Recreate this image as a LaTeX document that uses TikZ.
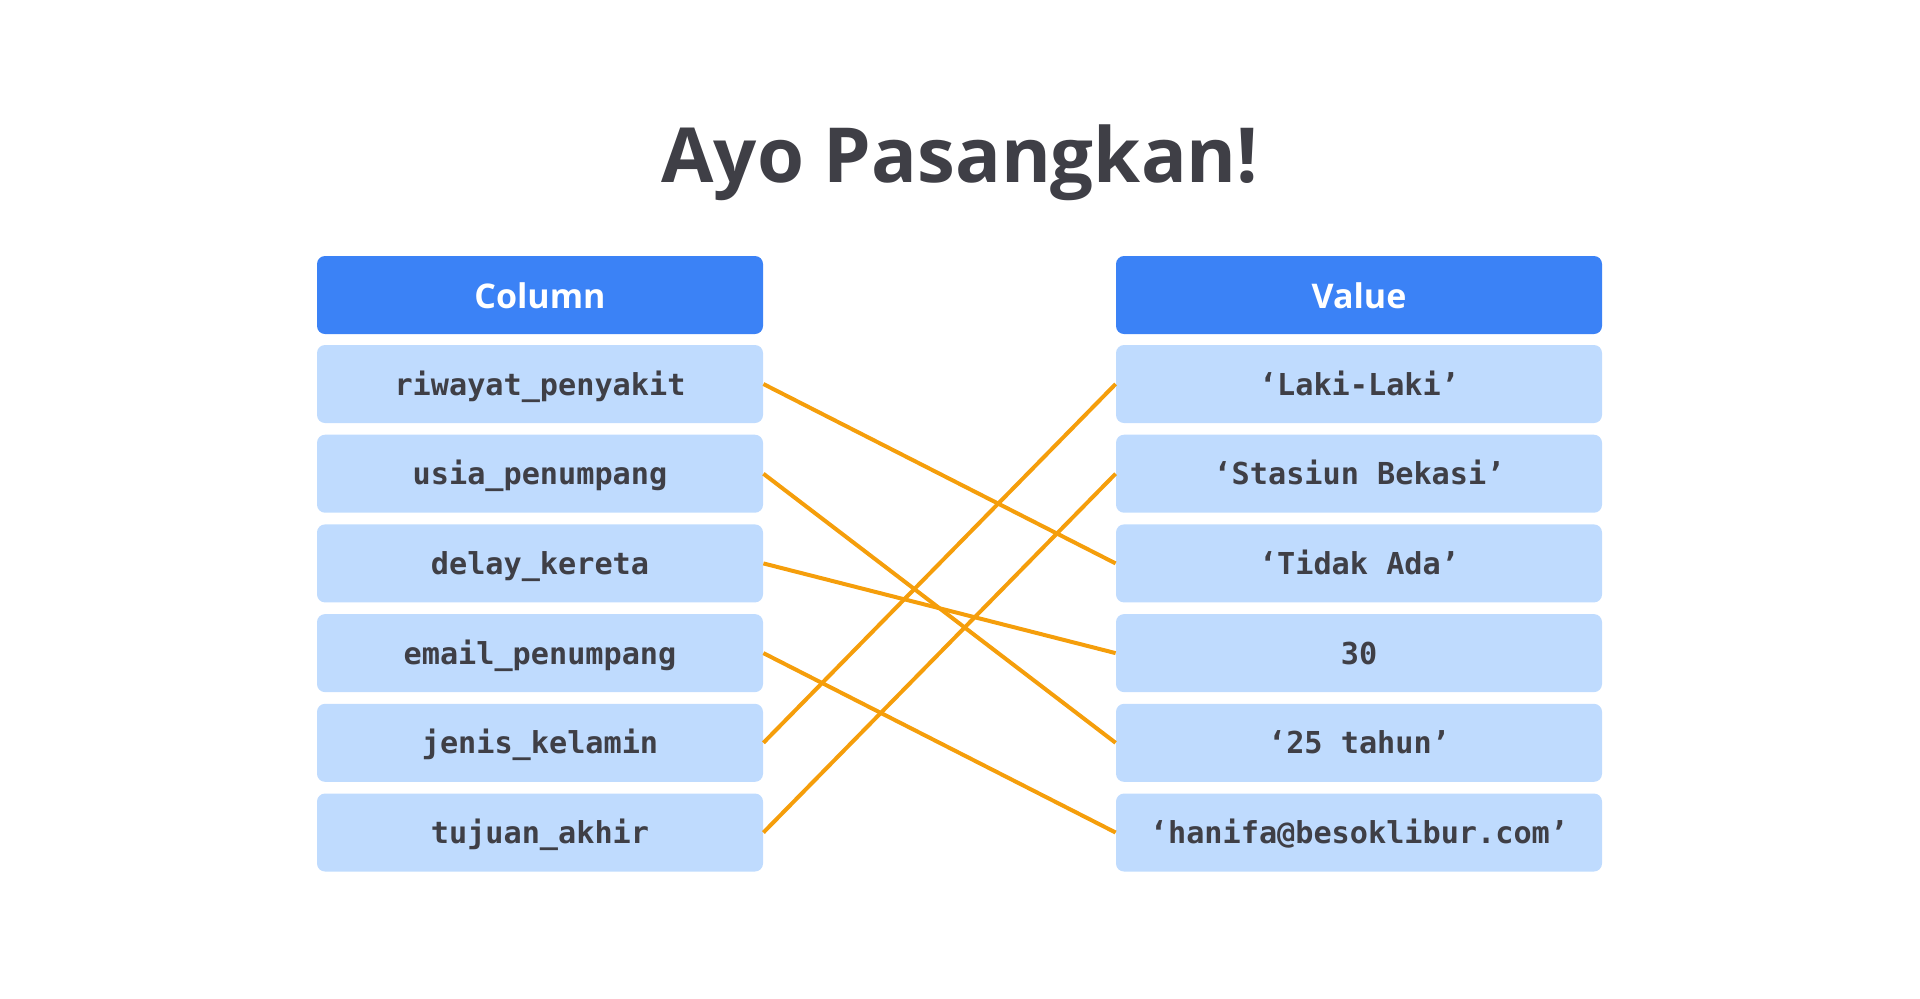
\documentclass[tikz,border=0pt]{standalone}
\usepackage{fontspec}
\setmainfont{Open Sans}
\newfontfamily\monof{DejaVu Sans Mono}
\definecolor{txt}{HTML}{3F3F46}
\definecolor{hdr}{HTML}{3B82F6}
\definecolor{cell}{HTML}{BFDBFE}
\definecolor{link}{HTML}{F59E0B}
\tikzset{
  hdrbox/.style={fill=hdr, rounded corners=4pt, minimum height=39pt, inner sep=0pt, text height=13pt, text depth=0pt, text=white, font=\fontsize{17}{20}\selectfont\bfseries},
  cellbox/.style={fill=cell, rounded corners=4pt, minimum height=39pt, inner sep=0pt, text height=11pt, text depth=0pt, text=txt, font=\monof\bfseries\fontsize{15.1}{17}\selectfont},
  lcol/.style={minimum width=223pt},
  rcol/.style={minimum width=243pt},
  linkline/.style={draw=link, line width=2pt}
}
\begin{document}
\begin{tikzpicture}[x=0.5pt,y=-0.5pt]
\useasboundingbox (0,0) rectangle (1920,998);
\node[anchor=base, inner sep=0pt, text=txt, font=\fontsize{38}{42}\selectfont\bfseries] (title) at (960,182) {Ayo Pasangkan!};
\node[hdrbox,lcol] (hl) at (540,295) {Column};
\node[hdrbox,rcol] (hr) at (1359,295) {Value};
\node[cellbox,lcol] (l1) at (540,384) {riwayat\_penyakit};
\node[cellbox,lcol] (l2) at (540,473.7) {usia\_penumpang};
\node[cellbox,lcol] (l3) at (540,563.4) {delay\_kereta};
\node[cellbox,lcol] (l4) at (540,653.1) {email\_penumpang};
\node[cellbox,lcol] (l5) at (540,742.8) {jenis\_kelamin};
\node[cellbox,lcol] (l6) at (540,832.5) {tujuan\_akhir};
\node[cellbox,rcol] (r1) at (1359,384) {‘Laki-Laki’};
\node[cellbox,rcol] (r2) at (1359,473.7) {‘Stasiun Bekasi’};
\node[cellbox,rcol] (r3) at (1359,563.4) {‘Tidak Ada’};
\node[cellbox,rcol] (r4) at (1359,653.1) {30};
\node[cellbox,rcol] (r5) at (1359,742.8) {‘25 tahun’};
\node[cellbox,rcol] (r6) at (1359,832.5) {‘hanifa@besoklibur.com’};
\draw[linkline] (l1.east) -- (r3.west);
\draw[linkline] (l2.east) -- (r5.west);
\draw[linkline] (l3.east) -- (r4.west);
\draw[linkline] (l4.east) -- (r6.west);
\draw[linkline] (l5.east) -- (r1.west);
\draw[linkline] (l6.east) -- (r2.west);
\end{tikzpicture}
\end{document}
